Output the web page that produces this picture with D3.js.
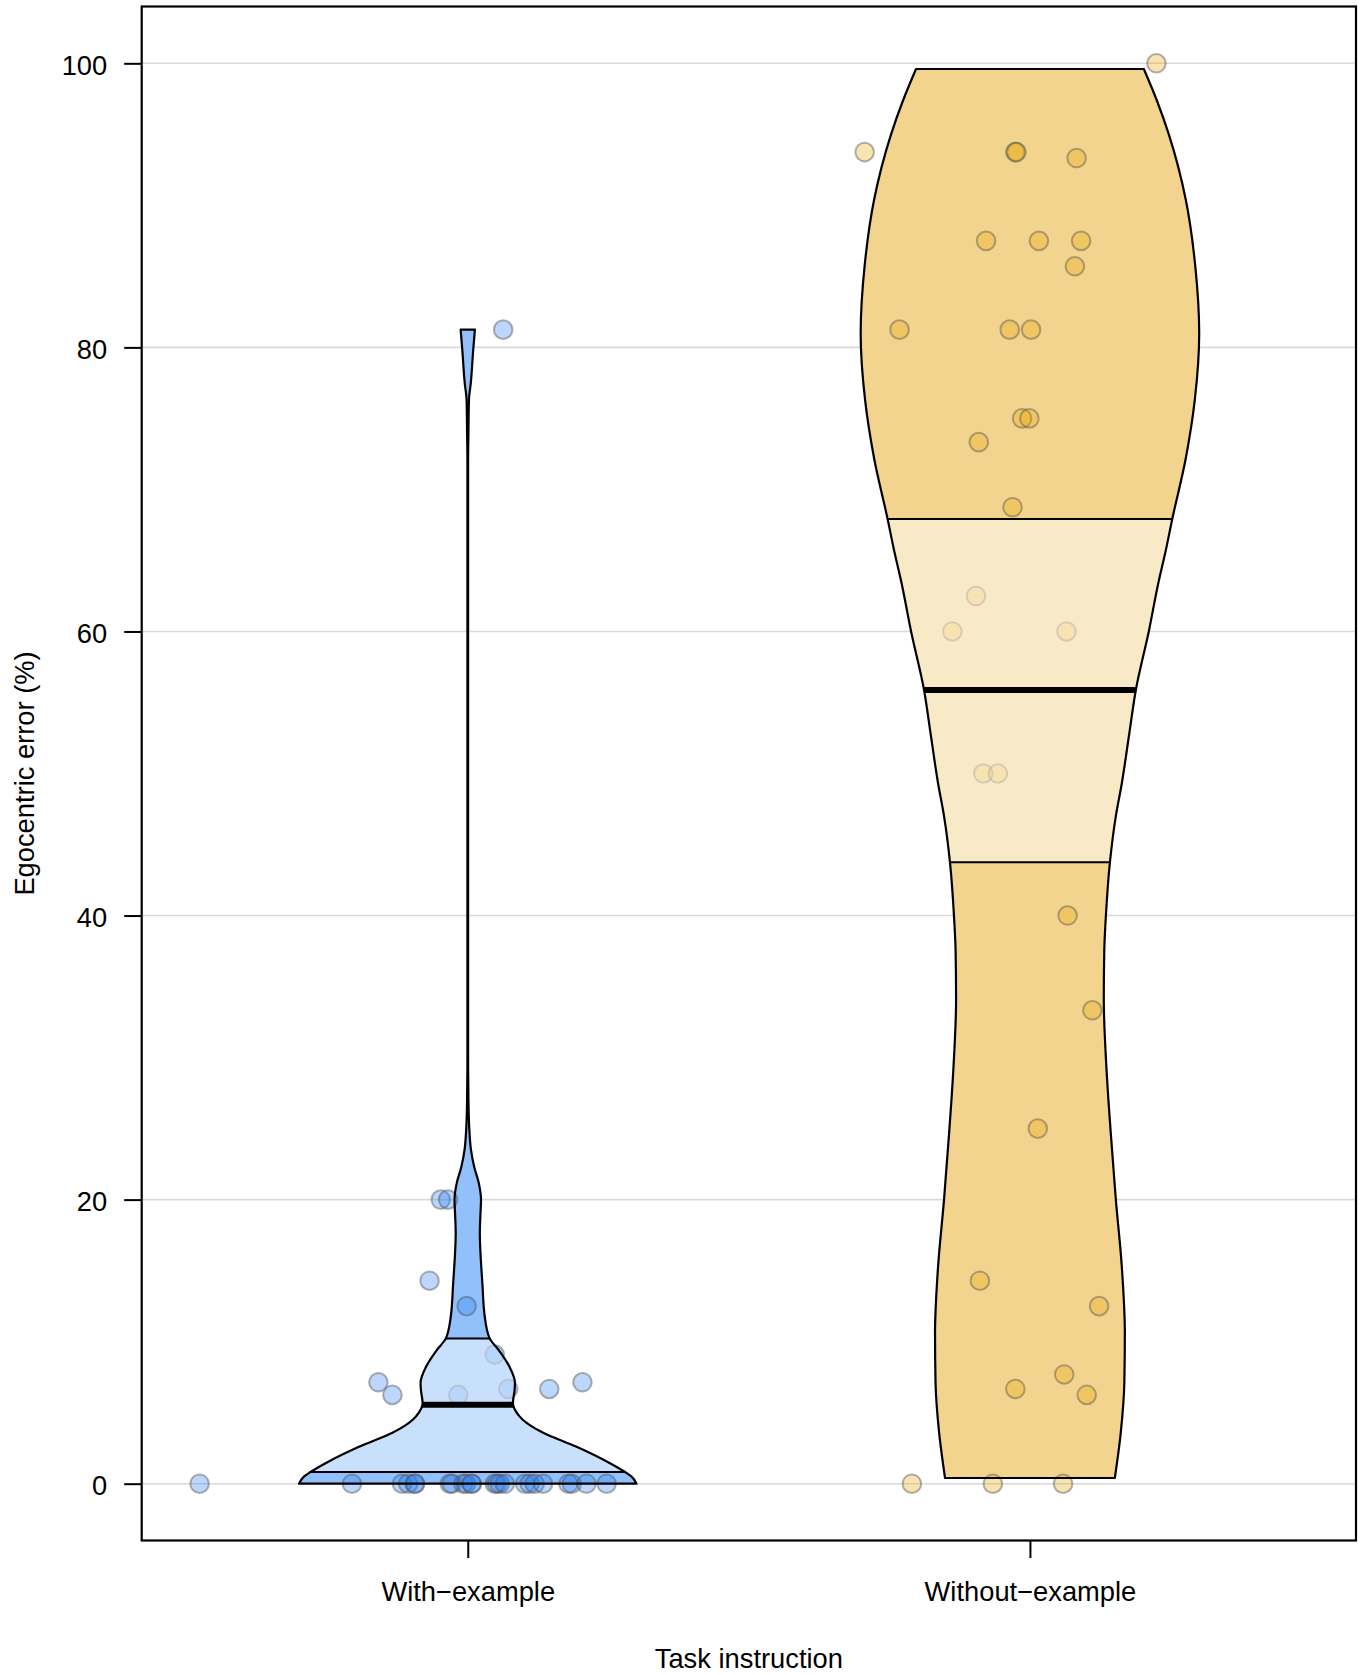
<!DOCTYPE html>
<html>
<head>
<meta charset="utf-8">
<script src="https://cdn.jsdelivr.net/npm/d3@7"></script>
<style>
  body { margin: 0; background: #fff; }
  text { font-family: "Liberation Sans", Arial, sans-serif; }
</style>
</head>
<body>
<script>
const WIDTH = 1364;
const HEIGHT = 1675;
const PLOT = { LEFT: 141.7, RIGHT: 1356, TOP: 6.5, BOTTOM: 1540.5 };
const FONT = 27.3;

// categories and ticks
const categories = ["With\u2212example", "Without\u2212example"];
const yTicks = [0, 20, 40, 60, 80, 100];

// With-example: values (%) and horizontal jitter (category units)
const withValues = [81.25, 20, 20, 14.29, 12.5, 9.09, 7.14, 6.25, 6.25, 6.67, 6.67, 7.14,
  0, 0, 0, 0, 0, 0, 0, 0, 0, 0, 0, 0, 0, 0, 0, 0, 0, 0, 0, 0, 0, 0, 0, 0];
const withJitter = [0.063, -0.048, -0.035, -0.068, -0.002, 0.048, -0.159, -0.134, -0.017, 0.072, 0.145, 0.204,
  -0.477, -0.206, -0.117, -0.106, -0.094, -0.094, -0.032, -0.028, -0.008, -0.003, 0.007, 0.007,
  0.048, 0.052, 0.057, 0.066, 0.102, 0.11, 0.119, 0.134, 0.179, 0.185, 0.211, 0.247];

// Without-example
const withoutValues = [100, 93.75, 93.75, 93.75, 93.33, 87.5, 87.5, 87.5, 85.71, 81.25, 81.25, 81.25,
  75, 75, 73.33, 68.75, 62.5, 60, 60, 50, 50, 40, 33.33, 25, 14.29, 12.5, 7.69, 6.67, 6.25, 0, 0, 0];
const withoutJitter = [0.225, -0.294, -0.026, -0.024, 0.083, -0.078, 0.016, 0.091, 0.08, -0.232, -0.036, 0.002,
  -0.014, -0.001, -0.091, -0.031, -0.096, -0.138, 0.065, -0.083, -0.057, 0.067, 0.111, 0.014,
  -0.089, 0.123, 0.061, -0.026, 0.101, -0.21, -0.066, 0.059];

// violin density profiles (relative density at each value)
const withDensityAt = [0, 0.5, 0.84, 1.46, 2.6, 3.6, 4.5, 5.0, 5.68, 6.6, 7.1, 8.25, 9.43, 10.23, 11.77,
  14.12, 16.47, 17.64, 18.8, 20, 21.16, 22.3, 23.5, 25, 27, 30, 72, 74, 76.3, 77.5, 79.8, 81.25];
const withDensity = [0.994, 0.965, 0.924, 0.835, 0.641, 0.441, 0.324, 0.288, 0.266, 0.276, 0.278, 0.245, 0.181, 0.129, 0.1,
  0.086, 0.074, 0.071, 0.074, 0.078, 0.065, 0.038, 0.019, 0.009, 0.004, 0.002, 0.002, 0.004, 0.007, 0.018, 0.032, 0.042];
const withoutDensityAt = [0.4, 3.6, 7.1, 10.6, 15.3, 20, 24.7, 29.4, 34.1, 37.6, 39.9, 43.75, 47, 49.3,
  52.8, 55.9, 60, 63.4, 65.7, 67.9, 72.2, 76.3, 81, 85.7, 90.4, 95, 97.4, 99.6];
const withoutDensity = [0.5, 0.535, 0.556, 0.559, 0.541, 0.506, 0.476, 0.45, 0.435, 0.438, 0.447, 0.471, 0.506, 0.541,
  0.585, 0.624, 0.7, 0.756, 0.8, 0.838, 0.918, 0.971, 0.997, 0.974, 0.918, 0.818, 0.747, 0.671];

// quartiles: [Q1, median, Q3]
const withStats = [0.82, 5.56, 10.23];
const withoutStats = [43.75, 55.88, 67.91];

const svg = d3
  .select("body")
  .append("svg")
  .attr("width", WIDTH)
  .attr("height", HEIGHT);

svg.append("rect").attr("width", WIDTH).attr("height", HEIGHT).attr("fill", "#fff");

const x = d3.scaleLinear().domain([0.42, 2.58]).range([PLOT.LEFT, PLOT.RIGHT]);
const y = d3.scaleLinear().domain([-4, 104]).range([PLOT.BOTTOM, PLOT.TOP]);
// violin half width, in category units
const halfWidth = d3.scaleLinear().domain([0, 1]).range([0, 0.302]);

// grid lines
svg
  .append("g")
  .selectAll("line")
  .data(yTicks)
  .join("line")
  .attr("x1", PLOT.LEFT)
  .attr("x2", PLOT.RIGHT)
  .attr("y1", (d) => y(d))
  .attr("y2", (d) => y(d))
  .attr("stroke", "#d9d9d9")
  .attr("stroke-width", 1.6);

const groups = [
  { pos: 1, at: withDensityAt, dens: withDensity, stats: withStats,
    values: withValues, jitter: withJitter, fill: "#92c0fa", point: "#2079f2" },
  { pos: 2, at: withoutDensityAt, dens: withoutDensity, stats: withoutStats,
    values: withoutValues, jitter: withoutJitter, fill: "#f2d48e", point: "#e8a600" },
];

groups.forEach((g, i) => {
  const area = d3
    .area()
    .curve(d3.curveMonotoneY)
    .y((d) => y(d[0]))
    .x0((d) => x(g.pos - halfWidth(d[1])))
    .x1((d) => x(g.pos + halfWidth(d[1])));
  g.shape = area(d3.zip(g.at, g.dens));

  svg
    .append("clipPath")
    .attr("id", "clip" + i)
    .append("path")
    .attr("d", g.shape);

  svg.append("path").attr("d", g.shape).attr("fill", g.fill);
});

// jittered points (under the interquartile wash)
groups.forEach((g) => {
  svg
    .append("g")
    .selectAll("circle")
    .data(g.values)
    .join("circle")
    .attr("cx", (d, j) => x(g.pos + g.jitter[j]))
    .attr("cy", (d) => y(d))
    .attr("r", 9.3)
    .attr("fill", g.point)
    .attr("fill-opacity", 0.3)
    .attr("stroke", "#555")
    .attr("stroke-opacity", 0.45)
    .attr("stroke-width", 2);
});

groups.forEach((g, i) => {
  const inner = svg.append("g").attr("clip-path", `url(#clip${i})`);
  // interquartile band, a half-transparent white wash
  inner
    .append("rect")
    .attr("x", x(g.pos - 0.4))
    .attr("width", x(g.pos + 0.4) - x(g.pos - 0.4))
    .attr("y", y(g.stats[2]))
    .attr("height", y(g.stats[0]) - y(g.stats[2]))
    .attr("fill", "#fff")
    .attr("fill-opacity", 0.5);
  inner
    .selectAll("line")
    .data(g.stats)
    .join("line")
    .attr("x1", x(g.pos - 0.4))
    .attr("x2", x(g.pos + 0.4))
    .attr("y1", (d) => y(d))
    .attr("y2", (d) => y(d))
    .attr("stroke", "#000")
    .attr("stroke-width", (d, j) => (j === 1 ? 6 : 2));

  svg
    .append("path")
    .attr("d", g.shape)
    .attr("fill", "none")
    .attr("stroke", "#000")
    .attr("stroke-width", 2.2)
    .attr("stroke-linejoin", "round");
});

// axes
const yAxis = svg
  .append("g")
  .attr("transform", `translate(${PLOT.LEFT},0)`)
  .call(d3.axisLeft(y).tickValues(yTicks).tickSize(17.5).tickPadding(17));
const xAxis = svg
  .append("g")
  .attr("transform", `translate(0,${PLOT.BOTTOM})`)
  .call(
    d3.axisBottom(x)
      .tickValues([1, 2])
      .tickFormat((d) => categories[d - 1])
      .tickSize(17.5)
      .tickPadding(23.6)
  );
[yAxis, xAxis].forEach((a) => {
  a.select(".domain").remove();
  a.selectAll(".tick line").attr("stroke", "#000").attr("stroke-width", 2);
  a.selectAll(".tick text")
    .attr("font-family", "Liberation Sans, Arial, sans-serif")
    .attr("font-size", FONT)
    .attr("fill", "#000");
});
yAxis.selectAll(".tick text").attr("dy", "0.4em");

// frame
svg
  .append("rect")
  .attr("x", PLOT.LEFT)
  .attr("y", PLOT.TOP)
  .attr("width", PLOT.RIGHT - PLOT.LEFT)
  .attr("height", PLOT.BOTTOM - PLOT.TOP)
  .attr("fill", "none")
  .attr("stroke", "#000")
  .attr("stroke-width", 2.2);

// axis titles
svg
  .append("text")
  .attr("x", (PLOT.LEFT + PLOT.RIGHT) / 2)
  .attr("y", 1668)
  .attr("text-anchor", "middle")
  .attr("font-size", FONT)
  .text("Task instruction");
svg
  .append("text")
  .attr("transform", `translate(34.3,${(PLOT.TOP + PLOT.BOTTOM) / 2}) rotate(-90)`)
  .attr("text-anchor", "middle")
  .attr("font-size", FONT)
  .text("Egocentric error (%)");
</script>
</body>
</html>
